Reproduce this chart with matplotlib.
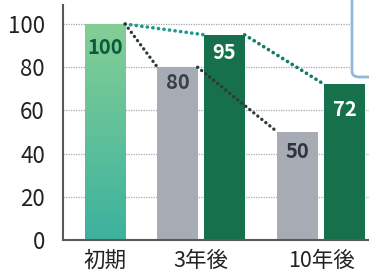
import numpy as np
import matplotlib
matplotlib.use("Agg")
import matplotlib.pyplot as plt
from matplotlib.patches import FancyBboxPatch

plt.rcParams['font.family'] = ['Noto Sans CJK JP', 'DejaVu Sans']

# data
categories = ["初期", "3年後", "10年後"]
initial_value = 100
gray_values = [80, 50]      # 3年後, 10年後
green_values = [95, 72]     # 3年後, 10年後
yticks = [0, 20, 40, 60, 80, 100]

# layout
group_pos = [0.0, 0.8, 1.8]
off = 0.196
w = 0.335

fig = plt.figure(figsize=(3.69, 2.73), dpi=100)
ax = fig.add_axes([63 / 369, 33 / 273, 1 - 63 / 369, (240 - 5) / 273])

gray_x = [p - off for p in group_pos[1:]]
green_x = [p + off for p in group_pos[1:]]

# 初期 bar with gradient
b0 = ax.bar(group_pos[0], initial_value, width=w, color="none", zorder=3)[0]
grad = np.linspace(0, 1, 256).reshape(-1, 1)
cmap = matplotlib.colors.LinearSegmentedColormap.from_list("g", ["#3cb29e", "#84cf95"])
im = ax.imshow(grad, cmap=cmap, aspect="auto", origin="lower",
               extent=[group_pos[0] - w / 2, group_pos[0] + w / 2, 0, initial_value], zorder=3)
im.set_clip_path(b0)

ax.bar(gray_x, gray_values, width=w, color="#a6abb4", zorder=3)
ax.bar(green_x, green_values, width=w, color="#15704b", zorder=3)

# dotted connectors (round dots)
dots = (0, (0.05, 1.5))
x0r = group_pos[0] + w / 2
ax.plot([x0r, green_x[0] - w / 2], [initial_value, green_values[0]],
        ls=dots, lw=2.6, color="#1c9a8c", dash_capstyle="round", zorder=4)
ax.plot([green_x[0] + w / 2, green_x[1] - w / 2], [green_values[0], green_values[1]],
        ls=dots, lw=2.6, color="#137a66", dash_capstyle="round", zorder=4)
ax.plot([x0r, gray_x[0] - w / 2], [initial_value, gray_values[0]],
        ls=dots, lw=2.4, color="#2e3a3c", dash_capstyle="round", zorder=4)
ax.plot([gray_x[0] + w / 2, gray_x[1] - w / 2], [gray_values[0], gray_values[1]],
        ls=dots, lw=2.4, color="#2e3a3c", dash_capstyle="round", zorder=4)

# value labels
def label(x, v, c, dy):
    ax.annotate(str(v), (x, v), xytext=(0, dy), textcoords="offset points",
                ha="center", va="center", fontsize=14.5, fontweight="bold",
                color=c, zorder=5)

label(group_pos[0], initial_value, "#0d5a3c", -17)
label(gray_x[0], gray_values[0], "#3a3f48", -11)
label(gray_x[1], gray_values[1], "#2e3440", -14)
label(green_x[0], green_values[0], "white", -13)
label(green_x[1], green_values[1], "white", -18)

# axes styling
ax.set_xlim(-0.35, 2.2)
ax.set_ylim(0, 108.8)
ax.set_yticks(yticks)
ax.set_xticks(group_pos)
ax.set_xticklabels(categories)
ax.tick_params(axis="y", length=0, pad=13, labelsize=16, labelcolor="#222222")
ax.tick_params(axis="x", length=0, pad=7, labelsize=15.5, labelcolor="#222222")
for yv in yticks[1:]:
    ax.axhline(yv, color="#a4a8b0", lw=0.9, ls=(0, (1, 1)), zorder=1)
for s in ["top", "right"]:
    ax.spines[s].set_visible(False)
for s in ["left", "bottom"]:
    ax.spines[s].set_color("#555a60")
    ax.spines[s].set_linewidth(1.5)
    ax.spines[s].set_zorder(6)

# cropped legend box at top right
box = FancyBboxPatch((352 / 369, (273 - 77) / 273), 0.2, 0.3,
                     boxstyle="round,pad=0,rounding_size=0.02",
                     transform=fig.transFigure, facecolor="white",
                     edgecolor="#93b9da", lw=2, zorder=10, clip_on=False)
fig.add_artist(box)

fig.savefig("out.png", dpi=100)
